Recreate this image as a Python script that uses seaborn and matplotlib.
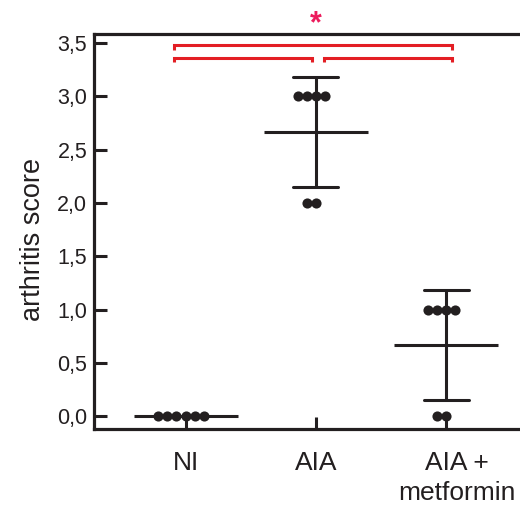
import matplotlib
matplotlib.use("Agg")
import matplotlib.pyplot as plt
import matplotlib.transforms as mtransforms
import numpy as np
import pandas as pd
import seaborn as sns

# Group labels and individual arthritis scores per animal
groups = ["NI", "AIA", "AIA +\nmetformin"]
scores_ni = [0, 0, 0, 0, 0, 0]
scores_aia = [3, 3, 3, 3, 2, 2]
scores_met = [1, 1, 1, 1, 0, 0]
y_ticks = [0.0, 0.5, 1.0, 1.5, 2.0, 2.5, 3.0, 3.5]
y_tick_labels = ["0,0", "0,5", "1,0", "1,5", "2,0", "2,5", "3,0", "3,5"]

# Significance brackets: (left group, right group, height) and the star label
brackets = [(0, 2, 3.48), (0, 1, 3.36), (1, 2, 3.36)]
sig_label = "*"

df = pd.DataFrame({
    "group": np.repeat(groups, [len(scores_ni), len(scores_aia), len(scores_met)]),
    "score": scores_ni + scores_aia + scores_met,
})

sns.set_theme(style="ticks")
plt.rcParams["font.family"] = ["Liberation Sans", "DejaVu Sans"]

ink = "#231f20"
red = "#e31e24"
pink = "#ec1c5c"

fig = plt.figure(figsize=(5.2, 5.08), dpi=100)
ax = fig.add_axes([94.3 / 520, 1 - 429 / 508, (545 - 94.3) / 520, (429 - 34.3) / 508])

# mean +/- SD
sns.pointplot(
    data=df, x="group", y="score", order=groups, ax=ax,
    errorbar="sd", capsize=0.345, color=ink,
    marker="_", markersize=75.5, markeredgewidth=2.2,
    linestyle="none", err_kws={"linewidth": 2.2, "color": ink},
    zorder=2,
)
# individual animals
n_before = len(ax.collections)
sns.swarmplot(
    data=df, x="group", y="score", order=groups, ax=ax,
    color=ink, size=6.3, linewidth=0, zorder=3,
)

ax.set_xlim(-0.70, (545 - 185.7) / 130.3)
ax.set_ylim(-0.118, 3.583)
ax.set_yticks(y_ticks)
ax.set_yticklabels(y_tick_labels, fontsize=15.5, color=ink)
ax.set_xlabel("")
ax.set_ylabel("arthritis score", fontsize=19.5, color=ink)
ax.yaxis.set_label_coords(-0.108, 0.481)

ax.tick_params(axis="y", direction="in", length=9.5, width=2.2, pad=5, colors=ink)
ax.tick_params(axis="x", direction="in", length=9, width=2.2, pad=16, colors=ink,
               labelsize=19)
for lbl in ax.get_xticklabels():
    lbl.set_color(ink)
    lbl.set_linespacing(1.3)
# shift the two-line label slightly right
last = ax.get_xticklabels()[-1]
last.set_transform(last.get_transform() +
                   mtransforms.ScaledTranslation(11 / 100, 0, fig.dpi_scale_trans))

for side in ["left", "top", "bottom"]:
    ax.spines[side].set_linewidth(2.3)
    ax.spines[side].set_color(ink)
ax.spines["right"].set_visible(False)

# brackets
for a, b, h in brackets:
    xa = a - 0.09 if a == 0 else a + 0.06
    xb = b + 0.046 if b == 2 else b - 0.03
    drop = 0.045 if (a, b) == (0, 2) else 0.04
    ax.plot([xa, xa, xb, xb], [h - drop, h, h, h - drop], color=red,
            linewidth=2.2, solid_capstyle="butt", solid_joinstyle="miter",
            clip_on=False, zorder=4)

ax.text(1, 3.583 + 0.09, sig_label, ha="center", va="center",
        fontsize=22, color=pink, fontweight="bold", clip_on=False)

# lay out the swarm once, then freeze it and draw the dots a little larger
# so that neighbours overlap slightly
fig.canvas.draw()
for coll in ax.collections[n_before:]:
    if "draw" in coll.__dict__:
        del coll.draw
    coll.set_sizes([7.3 ** 2])

fig.savefig("out.png", dpi=100)
